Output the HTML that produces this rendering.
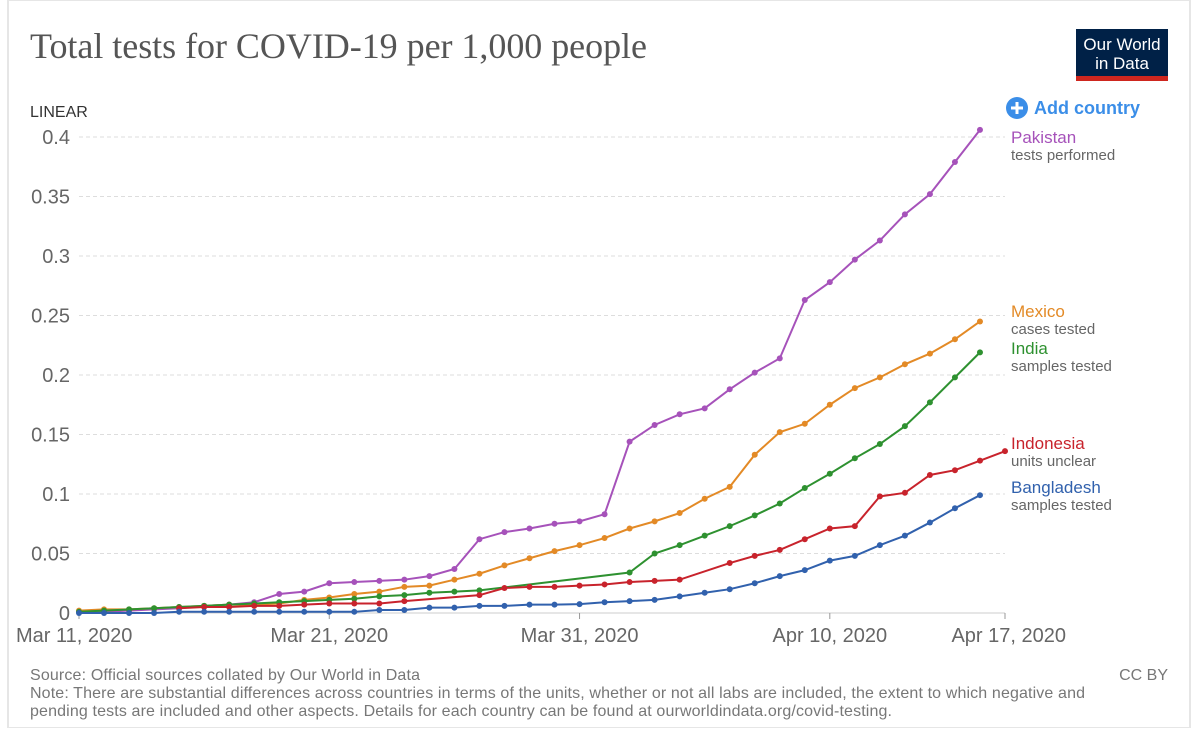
<!DOCTYPE html>
<html><head><meta charset="utf-8"><style>
body{margin:0;background:#fff;width:1200px;height:728px;overflow:hidden;font-family:"Liberation Sans",sans-serif}
</style></head><body>
<svg width="1200" height="728" xmlns="http://www.w3.org/2000/svg">
<rect x="8" y="0" width="1182" height="728" fill="#fff" stroke="#e6e6e6" stroke-width="2"/>
<text x="30" y="58" font-family="Liberation Serif,serif" font-size="36" textLength="617" fill="#555">Total tests for COVID-19 per 1,000 people</text>
<g>
<rect x="1076" y="29" width="92" height="52" fill="#002147"/>
<rect x="1076" y="76" width="92" height="5" fill="#ce261e"/>
<text x="1122" y="50" text-anchor="middle" font-size="17" fill="#fff">Our World</text>
<text x="1122" y="69" text-anchor="middle" font-size="17" fill="#fff">in Data</text>
</g>
<text x="30" y="117" font-size="16" fill="#333">LINEAR</text>
<g>
<circle cx="1017" cy="108" r="11" fill="#3b8ee8"/>
<path d="M1011 108h12M1017 102v12" stroke="#fff" stroke-width="3"/>
<text x="1034" y="114" font-size="18" font-weight="bold" fill="#3b8ee8" textLength="106">Add country</text>
</g>
<g id="grid"></g><g id="axes"></g><g id="series"></g><g id="labels"></g>
<text x="30" y="680" font-size="16" fill="#777" textLength="390">Source: Official sources collated by Our World in Data</text>
<text x="1168" y="680" text-anchor="end" font-size="16" fill="#777">CC BY</text>
<text x="30" y="698" font-size="16" fill="#777" textLength="1055">Note: There are substantial differences across countries in terms of the units, whether or not all labs are included, the extent to which negative and</text>
<text x="30" y="716" font-size="16" fill="#777" textLength="862">pending tests are included and other aspects. Details for each country can be found at ourworldindata.org/covid-testing.</text>
</svg>
<script>
const yTicks=[0,0.05,0.1,0.15,0.2,0.25,0.3,0.35,0.4];
const yTickLabels=["0","0.05","0.1","0.15","0.2","0.25","0.3","0.35","0.4"];
const xTickDays=[0,10,20,30,37];
const xTickLabels=["Mar 11, 2020","Mar 21, 2020","Mar 31, 2020","Apr 10, 2020","Apr 17, 2020"];
const pakistan=[0.001,0.001,0.002,0.003,0.004,0.006,0.007,0.009,0.016,0.018,0.025,0.026,0.027,0.028,0.031,0.037,0.062,0.068,0.071,0.075,0.077,0.083,0.144,0.158,0.167,0.172,0.188,0.202,0.214,0.263,0.278,0.297,0.313,0.335,0.352,0.379,0.406];
const mexico=[0.002,0.003,0.003,0.004,0.005,0.006,0.007,0.007,0.008,0.011,0.013,0.016,0.018,0.022,0.023,0.028,0.033,0.040,0.046,0.052,0.057,0.063,0.071,0.077,0.084,0.096,0.106,0.133,0.152,0.159,0.175,0.189,0.198,0.209,0.218,0.230,0.245];
const india=[0.001,0.002,0.003,0.004,0.005,0.006,0.007,0.008,0.009,0.010,0.011,0.012,0.014,0.015,0.017,0.018,0.019,null,null,null,null,null,0.034,0.050,0.057,0.065,0.073,0.082,0.092,0.105,0.117,0.130,0.142,0.157,0.177,0.198,0.219];
const indonesia=[null,null,null,null,0.004,0.005,0.005,0.006,0.006,0.007,0.008,0.008,0.008,0.010,null,null,0.015,0.021,0.022,0.022,0.023,0.024,0.026,0.027,0.028,null,0.042,0.048,0.053,0.062,0.071,0.073,0.098,0.101,0.116,0.120,0.128,0.136];
const bangladesh=[0.000,0.000,0.000,0.000,0.001,0.001,0.001,0.001,0.001,0.001,0.001,0.001,0.0025,0.0025,0.0045,0.0045,0.006,0.006,0.007,0.007,0.0075,0.009,0.010,0.011,0.014,0.017,0.020,0.025,0.031,0.036,0.044,0.048,0.057,0.065,0.076,0.088,0.099];
const names=["Pakistan","Mexico","India","Indonesia","Bangladesh"];
const subs=["tests performed","cases tested","samples tested","units unclear","samples tested"];
const colors=["#a652ba","#e38a26","#2e9130","#c8232c","#3161ad"];
const labelYs=[137,311,348,443,487];
const all=[pakistan,mexico,india,indonesia,bangladesh];
const NS="http://www.w3.org/2000/svg";
const X0=79,X1=1005,Y0=613,Y1=137;
const xs=d=>X0+(X1-X0)*d/37, ys=v=>Y0-(Y0-Y1)*v/0.4;
function el(t,a,p){const e=document.createElementNS(NS,t);for(const k in a)e.setAttribute(k,a[k]);document.getElementById(p).appendChild(e);return e;}
yTicks.forEach((v,i)=>{
 if(v>0){const g=el("line",{x1:X0,x2:X1,y1:ys(v),y2:ys(v),stroke:"#ddd","stroke-dasharray":"4,3"},"grid");
 
 }
 const t=el("text",{x:70,y:ys(v)+7,"text-anchor":"end","font-size":"20",fill:"#666"},"axes");t.textContent=yTickLabels[i];
 
 
});
const ax=el("line",{x1:X0,x2:X1,y1:Y0,y2:Y0,stroke:"#ccc"},"axes");


xTickDays.forEach((d,i)=>{
 el("line",{x1:xs(d),x2:xs(d),y1:Y0,y2:Y0+6,stroke:"#999"},"axes");
 const t=el("text",{x:xs(d),y:642,"text-anchor":i==0?"start":(i==4?"end":"middle"),"font-size":"20",fill:"#666"},"axes");
 if(i==0)t.setAttribute("x",16);if(i==4)t.setAttribute("x",1066);
 t.textContent=xTickLabels[i];
 
 
});
all.forEach((s,k)=>{
 const pts=[];s.forEach((v,d)=>{if(v!==null)pts.push([xs(d),ys(v)]);});
 const p=el("polyline",{points:pts.map(q=>q.join(",")).join(" "),fill:"none",stroke:colors[k],"stroke-width":"2"},"series");
 
 
 pts.forEach(q=>{const c=el("circle",{cx:q[0],cy:q[1],r:3,fill:colors[k]},"series");
  
  });
 const t=el("text",{x:1011,y:labelYs[k]+6,"font-size":"17",fill:colors[k]},"labels");t.textContent=names[k];
 
 
 const u=el("text",{x:1011,y:labelYs[k]+23,"font-size":"15",fill:"#666"},"labels");u.textContent=subs[k];
 
 
});
</script>
</body></html>
